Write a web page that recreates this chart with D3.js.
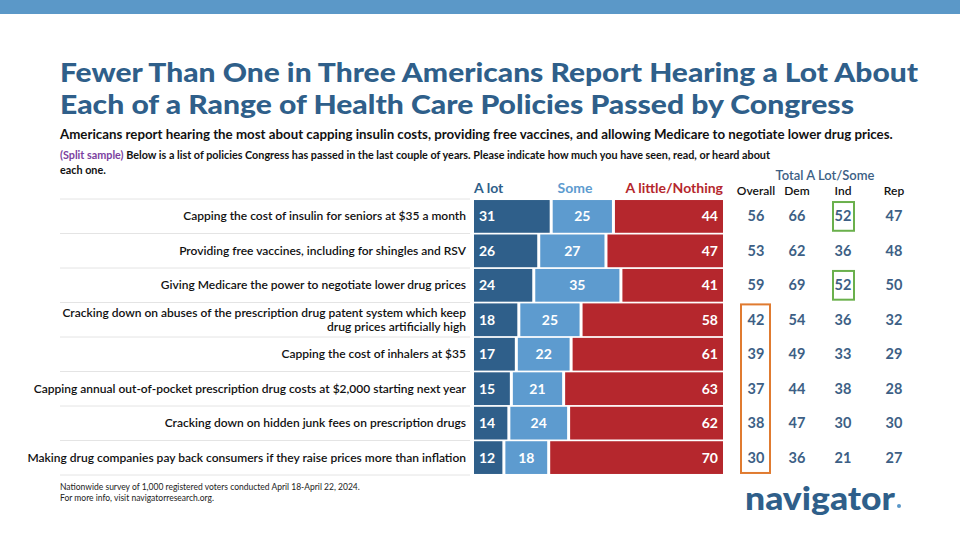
<!DOCTYPE html><html><head><meta charset="utf-8">
<script src="https://cdn.jsdelivr.net/npm/d3@7"></script>
<style>body{margin:0;background:#fff}svg{font-family:Lato,"Open Sans",sans-serif}</style></head><body>
<svg id="c" width="960" height="540"></svg>
<script>
const policies=["Capping the cost of insulin for seniors at $35 a month","Providing free vaccines, including for shingles and RSV","Giving Medicare the power to negotiate lower drug prices","Cracking down on abuses of the prescription drug patent system which keep|drug prices artificially high","Capping the cost of inhalers at $35","Capping annual out-of-pocket prescription drug costs at $2,000 starting next year","Cracking down on hidden junk fees on prescription drugs","Making drug companies pay back consumers if they raise prices more than inflation"];
const aLot=[31,26,24,18,17,15,14,12];
const some=[25,27,35,25,22,21,24,18];
const little=[44,47,41,58,61,63,62,70];
const overall=[56,53,59,42,39,37,38,30];
const dem=[66,62,69,54,49,44,47,36];
const ind=[52,36,52,36,33,38,30,21];
const rep=[47,48,50,32,29,28,30,27];
const colNames=["Overall","Dem","Ind","Rep"];
const svg=d3.select("#c");
const blue="#2f5f8a",mid="#5d9bcf",red="#b5272d",txt="#3d5f85";
svg.append("rect").attr("width",960).attr("height",14).attr("fill","#5b98c8");
svg.append("text").attr("x",60).attr("y",82).attr("font-size",26).attr("font-weight",900).attr("fill",blue).attr("textLength",858).attr("lengthAdjust","spacingAndGlyphs").text("Fewer Than One in Three Americans Report Hearing a Lot About");
svg.append("text").attr("x",60).attr("y",114).attr("font-size",26).attr("font-weight",900).attr("fill",blue).attr("textLength",794).attr("lengthAdjust","spacingAndGlyphs").text("Each of a Range of Health Care Policies Passed by Congress");
svg.append("text").attr("x",60).attr("y",139).attr("font-size",13.3).attr("font-weight",700).attr("fill","#111").text("Americans report hearing the most about capping insulin costs, providing free vaccines, and allowing Medicare to negotiate lower drug prices.");
const q=svg.append("text").attr("x",60).attr("y",159).attr("font-size",10.8).attr("font-weight",700).attr("fill","#111");
q.append("tspan").attr("fill","#7b3fa0").text("(Split sample) ");
q.append("tspan").text("Below is a list of policies Congress has passed in the last couple of years. Please indicate how much you have seen, read, or heard about");
svg.append("text").attr("x",60).attr("y",174).attr("font-size",10.8).attr("font-weight",700).attr("fill","#111").text("each one.");
const y=d3.scaleBand().domain(d3.range(8)).range([199,475]).paddingInner(0.05).paddingOuter(0.03);
const x=d3.scaleLinear().domain([0,100]).range([474,723]);
const g=svg.append("g");
d3.range(9).forEach(i=>{const yy=199+i*(276/8);g.append("line").attr("x1",60).attr("x2",470).attr("y1",yy).attr("y2",yy).attr("stroke","#ddd").attr("stroke-width",0.8);});
policies.forEach((p,i)=>{
 const cy=y(i)+y.bandwidth()/2, h=y.bandwidth(), y0=y(i);
 const lines=p.split("|");
 lines.forEach((l,k)=>g.append("text").attr("x",466).attr("y",cy+4+(k-(lines.length-1)/2)*14).attr("text-anchor","end").attr("font-size",12).attr("font-weight",600).attr("fill","#111").text(l));
 const segs=[[0,aLot[i],blue],[aLot[i],aLot[i]+some[i],mid],[aLot[i]+some[i],100,red]];
 segs.forEach(([a,b,c],k)=>g.append("rect").attr("x",x(a)+(k?1.5:0)).attr("y",y0).attr("width",x(b)-x(a)-(k?1.5:0)-(k<2?1.5:0)).attr("height",h).attr("fill",c));
 const vt=(xx,v,anc)=>g.append("text").attr("x",xx).attr("y",cy+5).attr("text-anchor",anc).attr("font-size",14).attr("font-weight",700).attr("fill","#fff").text(v);
 vt(x(0)+5,aLot[i],"start");
 vt((x(aLot[i])+x(aLot[i]+some[i]))/2,some[i],"middle");
 vt(x(100)-5,little[i],"end");
 [overall,dem,ind,rep].forEach((arr,k)=>g.append("text").attr("x",[756,797,843,894][k]).attr("y",cy+5).attr("text-anchor","middle").attr("font-size",14.5).attr("font-weight",700).attr("fill",txt).text(arr[i]));
});
[["A lot",474,"start",blue],["Some",575,"middle",mid],["A little/Nothing",723,"end",red]].forEach(([t,xx,a,c])=>svg.append("text").attr("x",xx).attr("y",193).attr("text-anchor",a).attr("font-size",14).attr("font-weight",700).attr("fill",c).text(t));
svg.append("text").attr("x",825).attr("y",180).attr("text-anchor","middle").attr("font-size",13).attr("font-weight",600).attr("fill",txt).text("Total A Lot/Some");
colNames.forEach((t,k)=>svg.append("text").attr("x",[756,797,843,894][k]).attr("y",195).attr("text-anchor","middle").attr("font-size",12).attr("font-weight",600).attr("fill","#111").text(t));
const bh=y.bandwidth();
[0,2].forEach(i=>svg.append("rect").attr("x",833).attr("y",y(i)+2).attr("width",21).attr("height",bh-4).attr("fill","none").attr("stroke","#6ab04c").attr("stroke-width",2));
svg.append("rect").attr("x",741).attr("y",y(3)+1).attr("width",29).attr("height",y(7)+bh-y(3)-2).attr("fill","none").attr("stroke","#e07b30").attr("stroke-width",2);
svg.append("text").attr("x",60).attr("y",490).attr("font-size",8.5).attr("fill","#222").text("Nationwide survey of 1,000 registered voters conducted April 18-April 22, 2024.");
svg.append("text").attr("x",60).attr("y",501).attr("font-size",8.5).attr("fill","#222").text("For more info, visit navigatorresearch.org.");
svg.append("text").attr("x",745).attr("y",510).attr("font-size",32).attr("font-weight",900).attr("fill",blue).attr("textLength",150).attr("lengthAdjust","spacingAndGlyphs").text("navigator");
svg.append("circle").attr("cx",899).attr("cy",506).attr("r",2).attr("fill","#5b98c8");
</script></body></html>
